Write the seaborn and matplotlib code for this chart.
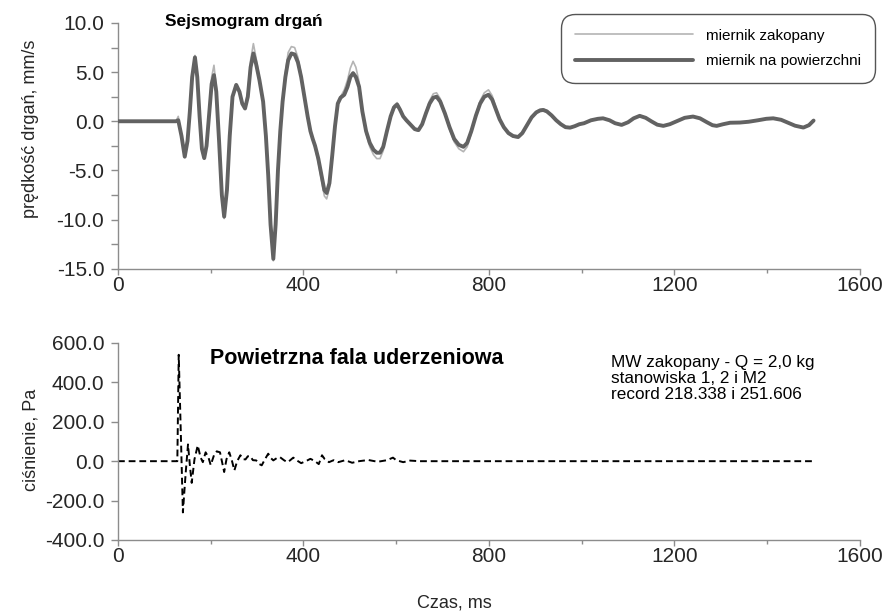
import matplotlib
matplotlib.use("Agg")
import matplotlib.pyplot as plt
import seaborn as sns
import pandas as pd
from matplotlib.ticker import MultipleLocator, FormatStrFormatter

# ---------------- data ----------------
# seismogram, "miernik na powierzchni" (thick dark line)
t_surface = [0, 125, 130, 137, 144, 150, 155, 160, 166, 171, 176, 181, 186, 191, 197, 202, 207, 212,
             218, 224, 229, 235, 241, 247, 255, 262, 268, 274, 280, 286, 292, 298, 305, 313, 319, 324,
             329, 335, 340, 345, 350, 355, 361, 367, 374, 381, 388, 395, 402, 409, 415, 420, 425, 432,
             440, 445, 450, 456, 462, 468, 474, 480, 488, 495, 501, 507, 513, 520, 527, 535, 543, 551,
             558, 565, 572, 580, 588, 595, 602, 608, 615, 622, 630, 640, 648, 656, 664, 672, 680, 687,
             695, 705, 715, 725, 735, 745, 753, 762, 772, 781, 790, 799, 807, 815, 823, 832, 842, 852,
             863, 872, 882, 892, 902, 910, 917, 925, 935, 945, 955, 965, 975, 985, 995, 1005, 1020,
             1035, 1046, 1060, 1072, 1086, 1100, 1112, 1125, 1138, 1150, 1163, 1176, 1190, 1205, 1222,
             1240, 1255, 1270, 1282, 1291, 1305, 1320, 1341, 1360, 1380, 1398, 1413, 1430, 1445, 1460,
             1478, 1490, 1500]
v_surface = [0, 0, 0.1, -1.5, -3.6, -2.0, 1.0, 4.5, 6.5, 4.5, 0.5, -2.8, -3.75, -2.5, 1.0, 3.8, 4.7, 3.0,
             -2.0, -7.5, -9.7, -7.0, -1.5, 2.5, 3.7, 3.0, 1.8, 1.3, 2.5, 5.5, 6.9, 5.8, 4.2, 2.0, -1.5, -5.5,
             -10.5, -14.0, -10.5, -5.0, -1.0, 2.0, 4.5, 6.2, 6.9, 6.8, 6.0, 4.5, 2.5, 0.5, -1.0, -1.8, -2.5, -3.8,
             -5.8, -7.0, -7.3, -6.3, -3.5, -0.5, 1.8, 2.4, 2.7, 3.5, 4.5, 4.9, 4.5, 3.5, 1.0, -1.0, -2.2, -2.9,
             -3.2, -3.2, -2.6, -1.0, 0.5, 1.4, 1.7, 1.2, 0.5, 0.1, -0.3, -0.8, -0.9, -0.3, 0.8, 1.8, 2.4, 2.5,
             2.0, 0.8, -0.6, -1.8, -2.4, -2.6, -2.2, -1.0, 0.6, 1.8, 2.5, 2.7, 2.2, 1.2, 0.2, -0.6, -1.2, -1.5,
             -1.6, -1.2, -0.4, 0.4, 0.9, 1.1, 1.15, 1.0, 0.6, 0.1, -0.3, -0.6, -0.65, -0.5, -0.3, -0.2, 0.1,
             0.25, 0.3, 0.1, -0.2, -0.37, -0.1, 0.3, 0.55, 0.35, 0.0, -0.35, -0.47, -0.3, 0.0, 0.35,
             0.48, 0.3, -0.1, -0.4, -0.47, -0.3, -0.15, -0.13, -0.05, 0.1, 0.25, 0.3, 0.15, -0.15, -0.45,
             -0.64, -0.4, 0.07]

# seismogram, "miernik zakopany" (thin light line)
t_buried = t_surface
v_buried = [0, 0, 0.5, -1.5, -3.7, -2.0, 1.0, 4.6, 6.7, 4.6, 0.5, -2.9, -3.8, -2.5, 1.2, 4.5, 5.7, 3.5,
            -2.0, -7.6, -9.9, -7.0, -1.5, 2.4, 3.6, 3.0, 1.8, 1.5, 3.0, 6.2, 7.9, 6.4, 4.4, 2.0, -1.5, -5.6,
            -10.7, -14.2, -10.6, -5.0, -1.0, 2.2, 5.0, 7.0, 7.6, 7.5, 6.5, 4.8, 2.6, 0.5, -1.0, -1.9, -2.7, -4.2,
            -6.3, -7.6, -7.9, -6.8, -3.8, -0.6, 1.7, 2.5, 3.2, 4.2, 5.4, 6.1, 5.5, 4.0, 1.2, -1.2, -2.6, -3.4,
            -3.8, -3.8, -3.0, -1.1, 0.5, 1.6, 1.9, 1.3, 0.5, 0.0, -0.4, -0.9, -1.0, -0.3, 0.9, 2.1, 2.8, 2.9,
            2.3, 0.8, -0.8, -2.1, -2.8, -3.1, -2.6, -1.2, 0.7, 2.1, 2.9, 3.2, 2.6, 1.4, 0.2, -0.7, -1.3, -1.6,
            -1.7, -1.3, -0.4, 0.5, 1.0, 1.2, 1.25, 1.1, 0.6, 0.1, -0.3, -0.6, -0.7, -0.5, -0.3, -0.2, 0.1,
            0.25, 0.3, 0.1, -0.2, -0.4, -0.1, 0.3, 0.55, 0.35, 0.0, -0.35, -0.5, -0.3, 0.0, 0.35,
            0.5, 0.3, -0.1, -0.4, -0.5, -0.3, -0.15, -0.13, -0.05, 0.1, 0.25, 0.3, 0.15, -0.15, -0.45,
            -0.66, -0.4, 0.07]

# air blast pressure
t_air = [0, 128, 131, 136, 140, 146, 151, 155, 159, 165, 172, 178, 183, 189, 195, 200, 207, 213, 220,
         225, 229, 234, 240, 246, 251, 257, 264, 270, 275, 280, 285, 291, 298, 305, 310, 317, 324, 330,
         335, 342, 349, 358, 365, 371, 378, 385, 395, 405, 415, 425, 433, 440, 446, 455, 465, 475, 490,
         505, 520, 540, 560, 580, 593, 600, 615, 630, 650, 1500]
p_air = [0, 0, 540, 100, -260, -60, 85, -20, -110, 10, 80, 20, -5, 45, 20, -20, 30, 50, 45,
         -10, -55, 10, 45, 0, -47, 0, 30, 10, 9, 25, 26, 5, 4, -15, -21, 10, 38, 15,
         4, 15, 21, 5, -5, 4, 18, 5, -10, 0, 12, 0, -15, 30, 10, -5, 5, -5, 5,
         -8, 0, 6, -3, 5, 18, 5, -5, 3, 0, 0]

x_ticks = [0, 400, 800, 1200, 1600]
top_yticks = [-15, -10, -5, 0, 5, 10]
bottom_yticks = [-400, -200, 0, 200, 400, 600]
label_buried = "miernik zakopany"
label_surface = "miernik na powierzchni"

df_surface = pd.DataFrame({"t": t_surface, "v": v_surface})
df_buried = pd.DataFrame({"t": t_buried, "v": v_buried})
df_air = pd.DataFrame({"t": t_air, "p": p_air})

# ---------------- style ----------------
sns.set_style("ticks")
plt.rcParams["font.family"] = ["Liberation Sans", "DejaVu Sans"]
plt.rcParams["text.color"] = "black"

SPINE = "#8c8c8c"

fig = plt.figure(figsize=(8.87, 6.13), dpi=100)
ax1 = fig.add_axes([0.133, 0.5617, 0.8365, 0.4008])
ax2 = fig.add_axes([0.133, 0.1191, 0.8365, 0.3214])

sns.lineplot(data=df_buried, x="t", y="v", ax=ax1, color="#b4b4b4", linewidth=1.2,
             label=label_buried, zorder=2)
sns.lineplot(data=df_surface, x="t", y="v", ax=ax1, color="#626262", linewidth=2.8,
             label=label_surface, zorder=3)

sns.lineplot(data=df_air, x="t", y="p", ax=ax2, color="black", linewidth=1.4)
for ln in ax2.get_lines():
    ln.set_dashes((3.5, 2.0))

for ax in (ax1, ax2):
    ax.set_xlim(0, 1600)
    ax.set_xticks(x_ticks)
    ax.xaxis.set_minor_locator(MultipleLocator(200))
    for s in ("top", "right"):
        ax.spines[s].set_visible(False)
    for s in ("left", "bottom"):
        ax.spines[s].set_color(SPINE)
        ax.spines[s].set_linewidth(1.0)
    ax.tick_params(axis="x", which="major", length=4.0, width=1.0, color=SPINE,
                   labelsize=15, pad=1)
    ax.tick_params(axis="x", which="minor", length=2.8, width=1.0, color=SPINE)
    ax.tick_params(axis="y", which="both", length=4.8, width=1.0, color=SPINE,
                   labelsize=15, pad=5)
    ax.set_xlabel("")

ax1.set_ylim(-15, 10)
ax1.set_yticks(top_yticks)
ax1.yaxis.set_minor_locator(MultipleLocator(2.5))
ax1.yaxis.set_major_formatter(FormatStrFormatter("%.1f"))

ax2.set_ylim(-400, 600)
ax2.set_yticks(bottom_yticks)
ax2.yaxis.set_major_formatter(FormatStrFormatter("%.1f"))

ax1.set_ylabel("prędkość drgań, mm/s", fontsize=13)
ax1.yaxis.set_label_coords(-0.106, 0.57)
ax2.set_ylabel("ciśnienie, Pa", fontsize=13)
ax2.yaxis.set_label_coords(-0.106, 0.51)
ax2.set_xlabel("Czas, ms", fontsize=13)
ax2.xaxis.set_label_coords(0.454, -0.275)

ax1.text(0.063, 1.006, "Sejsmogram drgań", transform=ax1.transAxes, fontsize=12.5,
         fontweight="bold", ha="left", va="center")
ax2.text(0.124, 0.92, "Powietrzna fala uderzeniowa", transform=ax2.transAxes, fontsize=15.5,
         fontweight="bold", ha="left", va="center")
ax2.text(0.664, 0.94, "MW zakopany - Q = 2,0 kg\nstanowiska 1, 2 i M2\nrecord 218.338 i 251.606",
         transform=ax2.transAxes, fontsize=12.3, ha="left", va="top", linespacing=1.1)

ax1.get_legend().remove()
h, l = ax1.get_legend_handles_labels()
leg = fig.legend(h, l, loc="upper right", bbox_to_anchor=(0.987, 0.977),
                 bbox_transform=fig.transFigure, fontsize=11, frameon=True, fancybox=True,
                 handlelength=7.7, handletextpad=0.85, borderpad=0.95, labelspacing=0.75,
                 borderaxespad=0.0)
frame = leg.get_frame()
frame.set_edgecolor("#555555")
frame.set_linewidth(1.0)
frame.set_facecolor("white")
frame.set_alpha(1.0)
frame.set_boxstyle("round,pad=0,rounding_size=0.9")

fig.savefig("out.png", dpi=100)
